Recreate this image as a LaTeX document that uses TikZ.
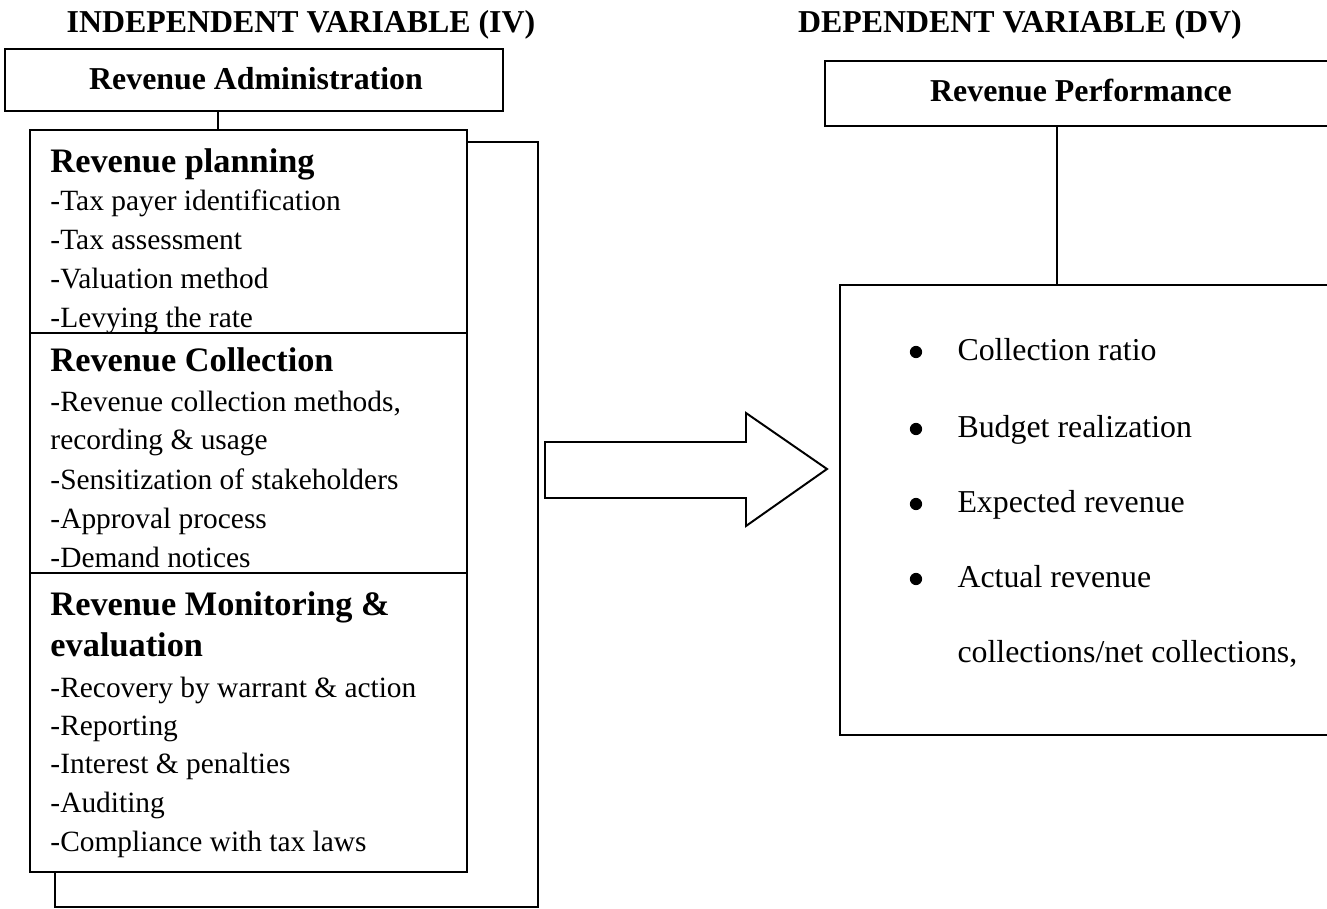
\documentclass[tikz,border=0pt]{standalone}
\usepackage{fontspec}
\setmainfont{Liberation Serif}
\usetikzlibrary{positioning}

\tikzset{
  box/.style={line width=0.8pt},
  head/.style={font=\fontsize{13}{15}\selectfont\bfseries, anchor=base, inner sep=0},
  sub/.style={font=\fontsize{14}{16}\selectfont\bfseries, anchor=base west, inner sep=0},
  item/.style={font=\fontsize{12}{14}\selectfont, anchor=base west, inner sep=0},
  kpi/.style={font=\fontsize{13}{15}\selectfont, anchor=base west, inner sep=0},
  dot/.style={circle, fill, inner sep=0, minimum size=5pt},
}

\begin{document}
\begin{tikzpicture}[x=0.408pt, y=-0.408pt]
\useasboundingbox (0,0) rectangle (1327,909);
\clip (0,0) rectangle (1327,909);
% Titel
\node[head] (iv) at (301,33) {INDEPENDENT VARIABLE (IV)};
\node[head] (dv) at (1020,33) {DEPENDENT VARIABLE (DV)};
% Revenue Administration
\coordinate (ra1) at (5,49);
\coordinate (ra2) at (503,111);
\draw[box] (ra1) rectangle (ra2);
\node[head] (ra) at (256,90) {Revenue Administration};
% hinterer Kasten
\coordinate (bk1) at (55,142);
\coordinate (bk2) at (538,907);
\draw[box] (bk1) rectangle (bk2);
% vorderer Kasten
\coordinate (fr1) at (30,130);
\coordinate (fr2) at (467,872);
\draw[box, fill=white] (fr1) rectangle (fr2);
\draw[box] (30,333) -- (467,333);
\draw[box] (30,573) -- (467,573);
\coordinate (ca) at (218,111);
\coordinate (cb) at (218,130);
\draw[box] (ca) -- (cb);
% Abschnitte
\node[sub] (pl) at (50,172) {Revenue planning};
\node[sub] (co) at (50,371) {Revenue Collection};
\node[sub] (mo) at (50,615) {Revenue Monitoring \&};
\node[sub] (ev) at (50,656) {evaluation};
\foreach \y/\t [count=\i] in {211/-Tax payer identification, 250/-Tax assessment,
  288/-Valuation method, 327/-Levying the rate,
  411/{-Revenue collection methods,}, 449/recording \& usage,
  489/-Sensitization of stakeholders, 528/-Approval process, 567/-Demand notices,
  697/-Recovery by warrant \& action, 735/-Reporting, 773/-Interest \& penalties,
  812/-Auditing, 851/-Compliance with tax laws}
  \node[item] (l\i) at (50,\y) {\t};
% Pfeil
\draw[box] (545,442) -- (746,442) -- (746,413) -- (827,469) -- (746,526)
  -- (746,498) -- (545,498) -- cycle;
% Revenue Performance
\coordinate (rp1) at (825,61);
\coordinate (rp2) at (1400,126);
\draw[box] (rp1) rectangle (rp2);
\node[head] (rp) at (1081,102) {Revenue Performance};
\coordinate (da) at (1057,126);
\coordinate (db) at (1057,285);
\draw[line width=1.1pt] (da) -- (db);
\coordinate (db1) at (840,285);
\coordinate (db2) at (1400,735);
\draw[box] (db1) rectangle (db2);
% Indikatoren
\foreach \y/\t [count=\i] in {360/Collection ratio, 437/Budget realization,
  512/Expected revenue, 587/Actual revenue}
  {\node[dot] (b\i) at (916,\y-8) {};
   \node[kpi] (k\i) at (957,\y) {\t};}
\node[kpi] (k5) at (957,662) {collections/net collections,};
\end{tikzpicture}
\end{document}
